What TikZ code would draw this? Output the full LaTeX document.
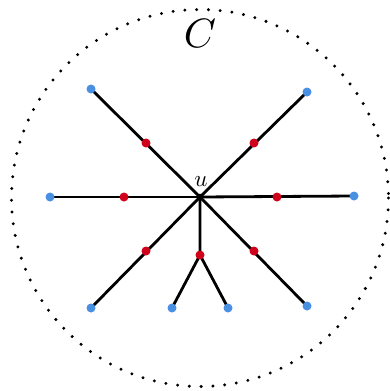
\documentclass[tikz,border=0pt]{standalone}
\begin{document}
\begin{tikzpicture}[x=1pt,y=-1pt,
  edge/.style={line width=2.8pt,black},
  bluept/.style={circle,fill=blueC,inner sep=0pt,minimum size=9pt},
  redpt/.style={circle,fill=redC,inner sep=0pt,minimum size=9pt},
  hub/.style={circle,fill=black,inner sep=0pt,minimum size=6.5pt}]
\definecolor{blueC}{HTML}{4A90E2}
\definecolor{redC}{HTML}{D0021B}
\useasboundingbox (0,0) rectangle (390,391);
\draw[line width=3.3pt,line cap=round,dash pattern=on 0pt off 11.8pt] (200,198) circle (188.5);
\node (lblC) [scale=4.1] at (200,33) {$C$};
\node (u) [hub] at (200,197) {};
\node (lblu) [scale=2.3] at (201,182) {$u$};
\coordinate (b1) at (91,89);
\coordinate (b2) at (307,92);
\coordinate (b3) at (50,197);
\coordinate (b4) at (354,196);
\coordinate (b5) at (91,308);
\coordinate (b6) at (307,306);
\coordinate (b7) at (172,308);
\coordinate (b8) at (228,308);
\coordinate (r1) at (146,143);
\coordinate (r2) at (254,143);
\coordinate (r3) at (124,197);
\coordinate (r4) at (277,197);
\coordinate (r5) at (146,251);
\coordinate (r6) at (254,251);
\coordinate (r7) at (200,255);
\foreach \i in {1,...,6} {\draw[edge] (u.center) -- (b\i);}
\draw[edge] (u.center) -- (r7) -- (b7);
\draw[edge] (r7) -- (b8);
\foreach \i in {1,...,8} {\node[bluept] (B\i) at (b\i) {};}
\foreach \i in {1,...,7} {\node[redpt] (R\i) at (r\i) {};}
\node[hub] at (u) {};
\end{tikzpicture}
\end{document}
